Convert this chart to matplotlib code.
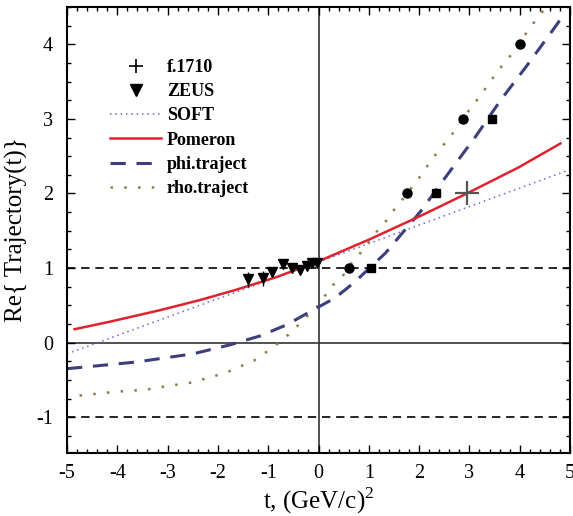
import matplotlib
matplotlib.use("Agg")
import matplotlib.pyplot as plt
from matplotlib.lines import Line2D
from matplotlib.ticker import MultipleLocator

plt.rcParams['font.family'] = ['Liberation Serif', 'DejaVu Serif']
plt.rcParams['mathtext.fontset'] = 'custom'
plt.rcParams['mathtext.rm'] = 'Liberation Serif'
plt.rcParams['axes.unicode_minus'] = False

# ---- data ----
pom_t = [-4.85, -4.15, -3.15, -2.36, -1.63, -0.83, 0.0, 1.0, 2.0, 2.95, 3.98, 4.81]
pom_y = [0.18, 0.28, 0.435, 0.57, 0.71, 0.88, 1.09, 1.38, 1.69, 2.00, 2.35, 2.67]

soft_t = [-5.0, 0.0, 5.0]
soft_y = [-0.15, 1.08, 2.32]

phi_t = [-5.0, -4.85, -3.62, -2.49, -1.76, -1.16, -0.63, -0.1, 0.33, 0.70, 1.33,
         2.03, 2.56, 3.12, 3.62, 4.15, 4.68, 4.9]
phi_y = [-0.35, -0.34, -0.26, -0.15, -0.03, 0.09, 0.24, 0.44, 0.60, 0.80, 1.20,
         1.76, 2.25, 2.76, 3.25, 3.72, 4.21, 4.42]

rho_t = [-4.75, -4.05, -3.42, -2.99, -2.56, -2.12, -1.71, -1.49, -1.28, -1.07,
         -0.86, -0.64, -0.44, -0.25, -0.03, 0.13, 0.30, 0.50, 0.66, 0.83, 1.0,
         1.16, 1.33, 1.49, 1.66, 1.99, 2.29, 2.62, 2.92, 3.25, 3.55, 3.88, 4.18,
         4.35, 4.55]
rho_y = [-0.71, -0.66, -0.63, -0.58, -0.54, -0.46, -0.37, -0.30, -0.24, -0.14,
         -0.04, 0.08, 0.21, 0.34, 0.48, 0.63, 0.78, 0.91, 1.07, 1.20, 1.35,
         1.49, 1.62, 1.77, 1.91, 2.20, 2.49, 2.76, 3.05, 3.34, 3.63, 3.90, 4.20,
         4.35, 4.52]

zeus_t = [-1.41, -1.11, -0.92, -0.70, -0.53, -0.36, -0.23, -0.13, -0.03]
zeus_y = [0.85, 0.86, 0.95, 1.05, 1.00, 0.97, 1.03, 1.07, 1.07]
zeus_err = [0.10, 0.10, 0.02, 0.02, 0.02, 0.02, 0.02, 0.02, 0.02]

circ_t = [0.61, 1.75, 2.87, 4.01]
circ_y = [1.0, 2.0, 3.0, 4.0]

sq_t = [1.04, 2.34, 3.45]
sq_y = [1.0, 2.0, 3.0]

f1710_t = [2.95]
f1710_y = [2.0]

legend_labels = ['f.1710', 'ZEUS', 'SOFT', 'Pomeron', 'phi.traject', 'rho.traject']

# ---- figure ----
fig = plt.figure(figsize=(5.73, 5.16), dpi=100)
ax = fig.add_axes([67/573, 1-453/516, (570-67)/573, (453-7)/516])

ax.set_xlim(-5, 5)
ax.set_ylim(-1.48, 4.5)

# reference lines
ax.axhline(0, color='#333333', lw=1.2, zorder=1)
ax.axvline(0, color='#333333', lw=1.2, zorder=1)
ax.axhline(1, color='black', lw=1.2, ls=(0, (5, 3.5)), zorder=1)
ax.axhline(-1, color='black', lw=1.2, ls=(0, (5, 3.5)), zorder=1)

c_soft = '#6a6acc'
c_pom = '#e0222e'
c_phi = '#3b3f7c'
c_rho = '#8c7c48'

ax.plot(soft_t, soft_y, color=c_soft, lw=1.1, ls=(0, (1, 2.5)), zorder=2)
ax.plot(rho_t, rho_y, color=c_rho, lw=1.8, ls=(0, (1, 4.5)), zorder=2)
ax.plot(phi_t, phi_y, color=c_phi, lw=2.2, ls=(0, (5, 3.5)), zorder=2)
ax.plot(pom_t, pom_y, color=c_pom, lw=1.8, zorder=3)

ax.errorbar(zeus_t, zeus_y, yerr=zeus_err, fmt='v', color='black', ms=7,
            elinewidth=1.0, capsize=0, zorder=4)
ax.plot(circ_t, circ_y, 'o', color='black', ms=6.5, zorder=4)
ax.plot(sq_t, sq_y, 's', color='black', ms=6, zorder=4)
ax.plot(f1710_t, f1710_y, '+', color='#555555', ms=17, mew=1.6, zorder=5)

# ticks
ax.xaxis.set_major_locator(MultipleLocator(1))
ax.xaxis.set_minor_locator(MultipleLocator(0.2))
ax.yaxis.set_major_locator(MultipleLocator(1))
ax.yaxis.set_minor_locator(MultipleLocator(0.25))
ax.tick_params(which='both', direction='in', top=True, right=True,
               labelsize=14.5, width=1.0)
ax.tick_params(which='major', length=6)
ax.tick_params(which='minor', length=3)
ax.tick_params(axis='x', pad=8)
ax.tick_params(axis='y', pad=10)
for s in ax.spines.values():
    s.set_linewidth(1.5)

ax.set_xlabel(r't, (GeV/c)$^{\mathregular{2}}$', fontsize=18, labelpad=2)
ax.set_ylabel('Re{ Trajectory(t)}', fontsize=18)
ax.yaxis.set_label_coords((28 - 67) / 503, 0.5)

handles = [
    Line2D([], [], ls='none', marker='+', color='black', ms=10, mew=1.2),
    Line2D([], [], ls='none', marker='v', color='black', ms=9),
    Line2D([], [], color=c_soft, lw=1.1, ls=(0, (1, 2.5))),
    Line2D([], [], color=c_pom, lw=1.8),
    Line2D([], [], color=c_phi, lw=2.2, ls=(0, (5, 3.5))),
    Line2D([], [], color=c_rho, lw=1.8, ls=(0, (1, 4.5))),
]
leg = ax.legend(handles, legend_labels, loc='upper left',
                bbox_to_anchor=((110-67)/503, (453-59)/446),
                frameon=False, borderpad=0, borderaxespad=0,
                handlelength=2.85, handletextpad=0.3, labelspacing=0.4,
                prop={'family': 'Liberation Serif', 'weight': 'bold', 'size': 13})

fig.savefig('out.png', dpi=100)
